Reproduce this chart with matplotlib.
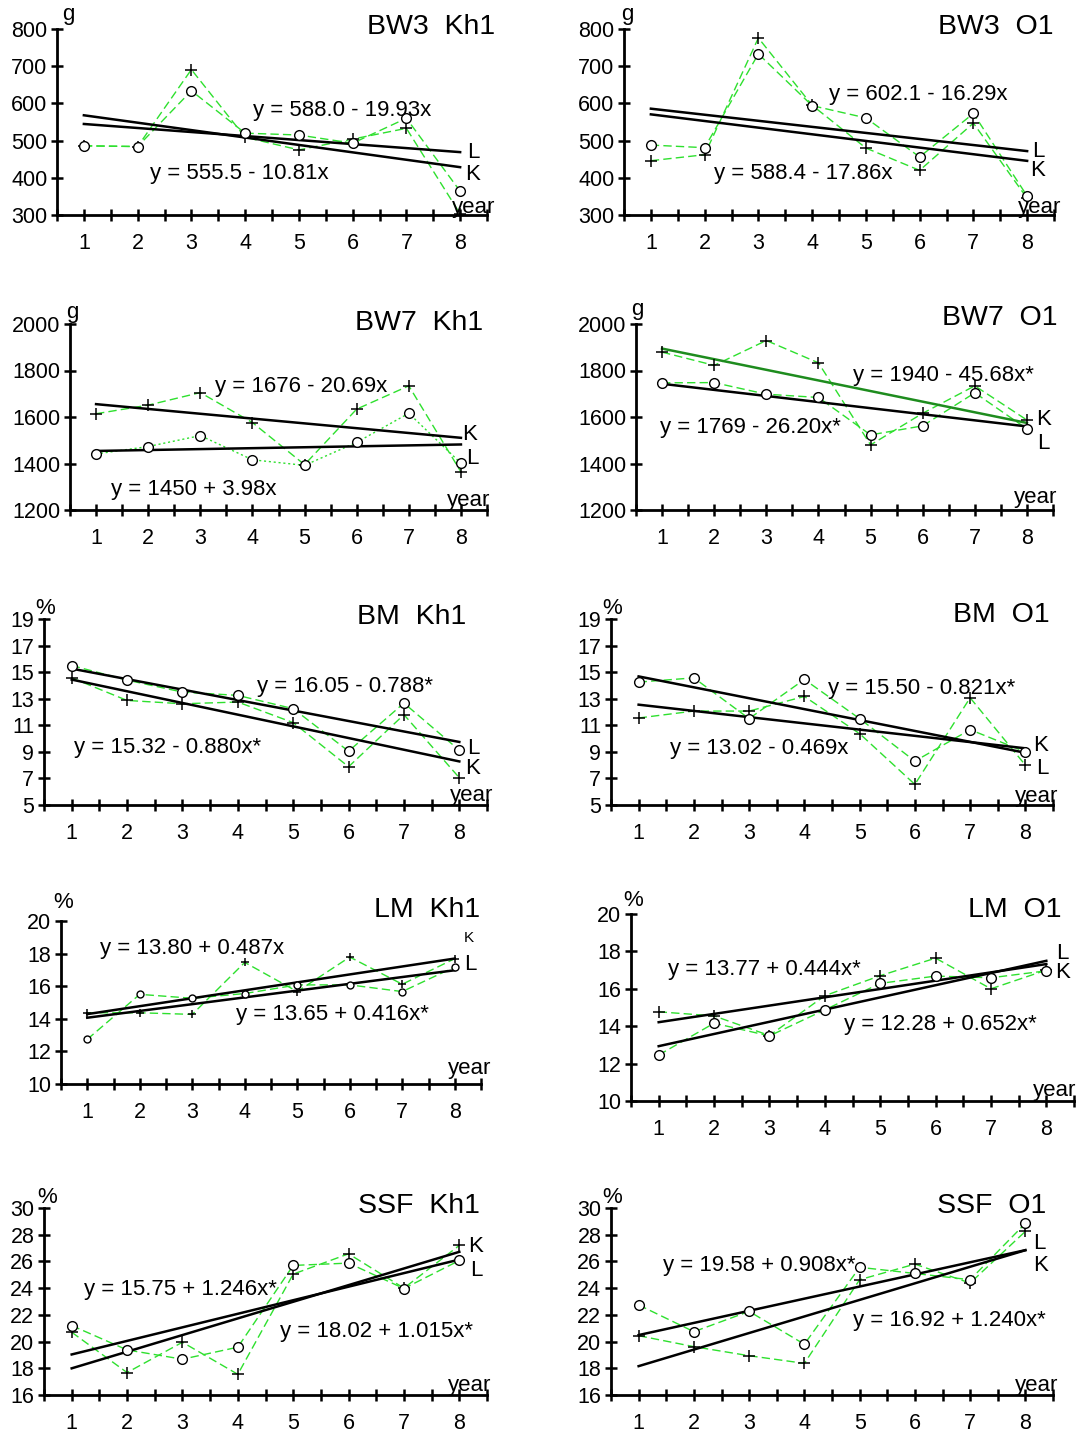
import numpy as np
import matplotlib
matplotlib.use('Agg')
import matplotlib.pyplot as plt

plt.rcParams['font.family'] = ['Liberation Sans', 'DejaVu Sans']

W, H = 1079, 1434
years = [1, 2, 3, 4, 5, 6, 7, 8]

# ---- data (K = "+", L = "o") ----
bw3_kh1_K = [486, 484, 691, 509, 475, 504, 533, 303]
bw3_kh1_L = [486, 484, 634, 520, 515, 493, 560, 364]
bw3_o1_K = [446, 462, 776, 595, 480, 420, 547, 345]
bw3_o1_L = [488, 481, 733, 594, 561, 456, 573, 351]
bw7_kh1_K = [1614, 1651, 1705, 1576, 1395, 1634, 1734, 1364]
bw7_kh1_L = [1441, 1473, 1520, 1416, 1392, 1491, 1616, 1401]
bw7_o1_K = [1879, 1822, 1929, 1833, 1480, 1616, 1734, 1587]
bw7_o1_L = [1747, 1748, 1698, 1684, 1523, 1562, 1704, 1549]
bm_kh1_K = [14.57, 12.87, 12.62, 12.75, 11.2, 7.88, 11.8, 7.05]
bm_kh1_L = [15.5, 14.4, 13.5, 13.25, 12.25, 9.05, 12.67, 9.12]
bm_o1_K = [11.55, 12.07, 12.07, 13.17, 10.37, 6.55, 13.07, 8.0]
bm_o1_L = [14.25, 14.57, 11.5, 14.45, 11.5, 8.3, 10.67, 9.0]
lm_kh1_K = [14.37, 14.37, 14.27, 17.46, 15.67, 17.79, 16.12, 17.69]
lm_kh1_L = [12.74, 15.5, 15.26, 15.55, 16.08, 16.08, 15.67, 17.18]
lm_o1_K = [14.77, 14.55, 13.5, 15.63, 16.70, 17.64, 16.0, 17.0]
lm_o1_L = [12.46, 14.16, 13.48, 14.875, 16.29, 16.68, 16.59, 16.96]
ssf_kh1_K = [20.7, 17.68, 19.95, 17.55, 25.05, 26.57, 24.0, 27.2]
ssf_kh1_L = [21.2, 19.375, 18.68, 19.58, 25.7, 25.875, 23.97, 26.07]
ssf_o1_K = [20.44, 19.62, 18.94, 18.37, 24.63, 25.8, 24.38, 28.25]
ssf_o1_L = [22.74, 20.74, 22.26, 19.8, 25.56, 25.1, 24.63, 28.85]

titles = ["BW3  Kh1", "BW3  O1", "BW7  Kh1", "BW7  O1", "BM  Kh1", "BM  O1",
          "LM  Kh1", "LM  O1", "SSF  Kh1", "SSF  O1"]
units = ["g", "g", "g", "g", "%", "%", "%", "%", "%", "%"]
y_min = [300, 300, 1200, 1200, 5, 5, 10, 10, 16, 16]
y_max = [800, 800, 2000, 2000, 19, 19, 20, 20, 30, 30]
y_step = [100, 100, 200, 200, 2, 2, 2, 2, 2, 2]

# regression lines (intercept, slope) as drawn
fit_K_a = [588.0, 588.4, 1676, 1940, 15.32, 13.02, 13.80, 13.77, 16.75, 16.92]
fit_K_b = [-19.93, -17.86, -20.69, -45.68, -0.880, -0.469, 0.487, 0.444, 1.246, 1.240]
fit_L_a = [555.5, 602.1, 1450, 1769, 16.05, 15.50, 13.65, 12.28, 18.02, 19.58]
fit_L_b = [-10.81, -16.29, 3.98, -26.20, -0.788, -0.821, 0.416, 0.652, 1.015, 0.908]

eq_upper = ["y = 588.0 - 19.93x", "y = 602.1 - 16.29x", "y = 1676 - 20.69x",
            "y = 1940 - 45.68x*", "y = 16.05 - 0.788*", "y = 15.50 - 0.821x*",
            "y = 13.80 + 0.487x", "y = 13.77 + 0.444x*", "y = 15.75 + 1.246x*",
            "y = 19.58 + 0.908x*"]
eq_lower = ["y = 555.5 - 10.81x", "y = 588.4 - 17.86x", "y = 1450 + 3.98x",
            "y = 1769 - 26.20x*", "y = 15.32 - 0.880x*", "y = 13.02 - 0.469x",
            "y = 13.65 + 0.416x*", "y = 12.28 + 0.652x*", "y = 18.02 + 1.015x*",
            "y = 16.92 + 1.240x*"]
end_label_top = ["L", "L", "K", "K", "L", "K", "K", "L", "K", "L"]
end_label_bot = ["K", "K", "L", "L", "K", "L", "L", "K", "L", "K"]

series_K = [bw3_kh1_K, bw3_o1_K, bw7_kh1_K, bw7_o1_K, bm_kh1_K, bm_o1_K,
            lm_kh1_K, lm_o1_K, ssf_kh1_K, ssf_o1_K]
series_L = [bw3_kh1_L, bw3_o1_L, bw7_kh1_L, bw7_o1_L, bm_kh1_L, bm_o1_L,
            lm_kh1_L, lm_o1_L, ssf_kh1_L, ssf_o1_L]

# ---- layout (pixels) ----
# axes: x at 0.5, x at 8.5, y pixel of top, y pixel of bottom
ax_px = [(57, 487, 29, 215), (624, 1054, 29, 215),
         (70, 487, 324, 510), (636, 1053, 324, 510),
         (44, 487, 619, 805), (611, 1053, 619, 805),
         (61, 481, 921, 1084), (631, 1074, 914, 1101),
         (44, 487, 1208, 1395), (611, 1053, 1208, 1395)]
# text positions: (x, y_center)
unit_px = [(68, 12), (627, 12), (72, 310), (637, 307), (45, 606), (612, 606),
           (63, 900), (633, 898), (47, 1195), (612, 1195)]
title_px = [(495, 24), (1053, 24), (483, 320), (1058, 315), (466, 614), (1050, 612),
            (480, 907), (1062, 907), (480, 1203), (1046, 1203)]
eq_up_px = [(253, 108), (829, 92), (215, 384), (853, 373), (257, 684), (828, 686),
            (100, 946), (668, 967), (84, 1287), (663, 1263)]
eq_lo_px = [(150, 171), (714, 171), (111, 487), (660, 425), (74, 745), (670, 746),
            (236, 1012), (844, 1022), (280, 1329), (853, 1318)]
lab_top_px = [(467, 150), (1032, 149), (462, 432), (1036, 417), (467, 746), (1033, 743),
              (464, 937), (1056, 951), (468, 1244), (1033, 1241)]
lab_bot_px = [(465, 172), (1030, 168), (466, 456), (1037, 441), (465, 766), (1036, 766),
              (464, 962), (1055, 970), (470, 1268), (1033, 1263)]
year_px = [(474, 205), (1040, 205), (469, 498), (1036, 495), (472, 793), (1037, 794),
           (470, 1066), (1055, 1088), (470, 1383), (1037, 1383)]

GREEN = '#2ee02e'
FS = 16


def ftext(x, y, s, size=FS, ha='left', **kw):
    # y given as visual centre of caps; convert to baseline
    base = y + 0.36 * size * 100 / 72
    fig.text(x / W, 1 - base / H, s, fontsize=size, ha=ha, va='baseline', **kw)


fig = plt.figure(figsize=(W / 100, H / 100), dpi=100)

for i in range(10):
    x0, x1, yt, yb = ax_px[i]
    ax = fig.add_axes([x0 / W, 1 - yb / H, (x1 - x0) / W, (yb - yt) / H])
    ax.set_xlim(0.5, 8.5)
    ax.set_ylim(y_min[i], y_max[i])
    ax.patch.set_alpha(0)
    for s in ['top', 'right']:
        ax.spines[s].set_visible(False)
    for s in ['left', 'bottom']:
        ax.spines[s].set_linewidth(2.0)
    xt = np.arange(0.5, 8.51, 0.5)
    ax.set_xticks(xt)
    ax.set_xticklabels([str(int(v)) if v == int(v) and 1 <= v <= 8 else '' for v in xt])
    ax.set_yticks(np.arange(y_min[i], y_max[i] + 0.001, y_step[i]))
    ax.tick_params(axis='both', direction='inout', length=8, width=1.8,
                   labelsize=15.5)
    ax.tick_params(axis='x', pad=9)
    ax.tick_params(axis='y', pad=3)

    small = (i == 6)
    ms_o = 5 if small else 7
    ms_p = 6 if small else 8
    x = np.array(years)
    ls_L = (0, (1.5, 2)) if i == 2 else (0, (6, 3))
    ax.plot(x, series_K[i], color=GREEN, lw=1.0, linestyle=(0, (6, 3)), zorder=2)
    ax.plot(x, series_L[i], color=GREEN, lw=1.0, linestyle=ls_L, zorder=2)
    xr = np.array([1, 8])
    kcol = '#1e8c1e' if i == 3 else 'black'
    ax.plot(xr, fit_K_a[i] + fit_K_b[i] * xr, color=kcol, lw=1.8, zorder=3)
    ax.plot(xr, fit_L_a[i] + fit_L_b[i] * xr, color='black', lw=1.8, zorder=3)
    ax.plot(x, series_K[i], linestyle='none', marker='+', color='black',
            markersize=ms_p, mew=1.1, zorder=4)
    ax.plot(x, series_L[i], linestyle='none', marker='o', markerfacecolor='white',
            markeredgecolor='black', markersize=ms_o, mew=1.0, zorder=5)

    ftext(*unit_px[i], units[i], ha='center')
    ftext(*title_px[i], titles[i], size=20.5, ha='right')
    ftext(*eq_up_px[i], eq_upper[i])
    ftext(*eq_lo_px[i], eq_lower[i])
    tsize = 11 if i == 6 else FS
    ftext(*lab_top_px[i], end_label_top[i], size=tsize)
    ftext(*lab_bot_px[i], end_label_bot[i])
    ftext(*year_px[i], "year", ha='center')

fig.savefig('out.png', dpi=100)
